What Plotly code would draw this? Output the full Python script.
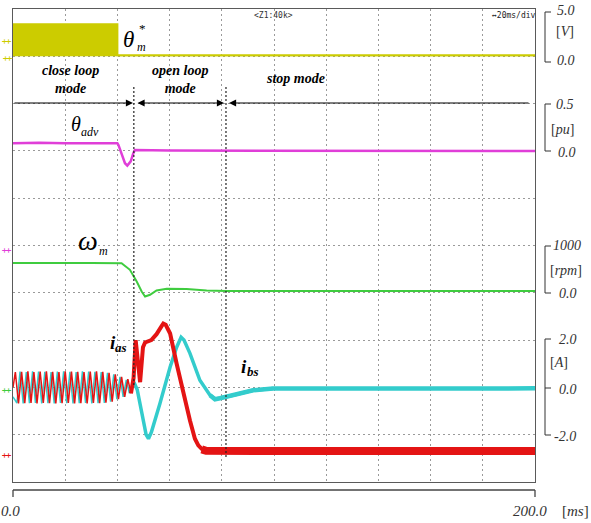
import plotly.graph_objects as go

# ---------------- data ----------------
# time axis: 0 .. 200 ms, 20 ms/div
yellow_t = [0, 0, 40.0, 40.0, 200]           # theta*_m  [V]
yellow_v = [0.1, 3.4, 3.4, 0.1, 0.1]

pink_t = [0, 10, 20, 30, 40.0, 40.4, 41.6, 42.9, 43.8, 45.1, 46.1, 46.7, 60, 100, 150, 200]   # theta_adv [pu]
pink_v = [0.08, 0.085, 0.08, 0.082, 0.08, 0.063, -0.025, -0.13, -0.155, -0.11, -0.025, 0.01, 0.003, 0.0, 0.003, 0.0]

green_t = [0, 15, 30, 41.6, 44.8, 47.4, 49.3, 50.6, 52.5, 55.0, 58.9, 66.5, 74.2, 81.9, 120, 200]   # omega_m [rpm]
green_v = [628, 635, 630, 625, 486, 239, 27, -78, -42, 49, 85, 78, 49, 38, 36, 38]

# i_as [A]
ias_osc_t = [0.0, 0.9, 2.1, 3.3, 4.5, 5.7, 6.9, 8.0, 9.2, 10.4, 11.6, 12.8, 14.0, 15.2, 16.4, 17.6,
             18.8, 20.0, 21.2, 22.4, 23.6, 24.8, 26.0, 27.2, 28.4, 29.6, 30.8, 32.0, 33.2, 34.4,
             35.6, 36.8, 38.0, 39.2, 40.4, 41.6, 42.8, 44.0, 45.2]
ias_osc_v = [0.0, 0.65, -0.68, 0.66, -0.67, 0.68, -0.66, 0.65, -0.68, 0.67, -0.66, 0.68, -0.67, 0.66,
             -0.68, 0.65, -0.67, 0.68, -0.66, 0.67, -0.68, 0.66, -0.67, 0.65, -0.68, 0.67, -0.66,
             0.68, -0.67, 0.66, -0.65, 0.62, -0.6, 0.55, -0.5, 0.45, -0.4, 0.35, -0.25]
ias_tr_t = [45.2, 46.2, 47.0, 47.6, 48.7, 49.8, 50.6, 53.0, 55.0, 57.0, 57.6, 58.5, 60.2, 62.7,
            65.3, 67.8, 69.7, 71.0, 72.3, 74.0]
ias_tr_v = [-0.25, 0.4, 2.0, 1.2, 0.22, 1.7, 1.9, 2.0, 2.25, 2.6, 2.7, 2.65, 2.28, 1.0,
            -0.27, -1.4, -2.17, -2.45, -2.6, -2.68]
ias_flat_t = [72.3, 74.0, 100, 130, 160, 200]
ias_flat_v = [-2.62, -2.68, -2.69, -2.7, -2.69, -2.69]

# i_bs [A]
ibs_osc_t = [0.0, 1.5, 2.7, 3.9, 5.1, 6.3, 7.5, 8.6, 9.8, 11.0, 12.2, 13.4, 14.6, 15.8, 17.0, 18.2,
             19.4, 20.6, 21.8, 23.0, 24.2, 25.4, 26.6, 27.8, 29.0, 30.2, 31.4, 32.6, 33.8, 35.0,
             36.2, 37.4, 38.6, 39.8, 41.0, 42.2, 43.4, 44.6, 45.8]
ibs_osc_v = [-0.4, -0.66, 0.67, -0.68, 0.65, -0.67, 0.68, -0.66, 0.67, -0.68, 0.66, -0.67, 0.65,
             -0.68, 0.67, -0.66, 0.68, -0.67, 0.66, -0.68, 0.65, -0.67, 0.68, -0.66, 0.67, -0.68,
             0.66, -0.67, 0.65, -0.66, 0.62, -0.6, 0.55, -0.5, 0.45, -0.4, 0.32, -0.25, 0.1]
ibs_tr_t = [45.8, 46.6, 47.6, 49.5, 51.0, 51.9, 53.0, 56.3, 60.2, 62.7, 64.4, 65.5, 67.8, 71.6,
            75.5, 77.4, 79.3, 84.3, 92.0, 99.6]
ibs_tr_v = [0.1, 0.15, -0.1, -1.2, -2.0, -2.17, -1.9, -0.68, 0.86, 1.7, 2.12, 2.0, 1.44, 0.3,
            -0.33, -0.5, -0.46, -0.33, -0.12, -0.05]
ibs_flat_t = [75.5, 77.4, 79.3, 84.3, 92.0, 99.6, 130, 160, 200]
ibs_flat_v = [-0.33, -0.5, -0.46, -0.33, -0.12, -0.05, -0.03, -0.05, -0.04]

mode_labels = ["close loop<br>mode", "open loop<br>mode", "stop mode"]
mode_bounds = [46.3, 81.6]   # ms, mode switching instants

# ---------------- layout geometry ----------------
FIG_W, FIG_H = 591, 523
L, R, T, B = 13, 56, 9, 41
PW, PH = FIG_W - L - R, FIG_H - T - B


def px(x):
    return (x - L) / PW


def py(y):
    return (T + PH - y) / PH


SERIF = "Liberation Serif"
YEL, PINK, GRN, RED, CYAN = "#cccc00", "#e03ed8", "#3fcc3f", "#e41414", "#33cccc"

fig = go.Figure()

fig.add_trace(go.Scatter(x=yellow_t, y=yellow_v, yaxis="y4", mode="lines", fill="tozeroy",
                         fillcolor=YEL, line=dict(color=YEL, width=2)))
fig.add_trace(go.Scatter(x=pink_t, y=pink_v, yaxis="y3", mode="lines",
                         line=dict(color=PINK, width=2.5)))
fig.add_trace(go.Scatter(x=green_t, y=green_v, yaxis="y2", mode="lines",
                         line=dict(color=GRN, width=2)))
fig.add_trace(go.Scatter(x=ibs_osc_t, y=ibs_osc_v, mode="lines", line=dict(color=CYAN, width=1.5)))
fig.add_trace(go.Scatter(x=ibs_tr_t, y=ibs_tr_v, mode="lines", line=dict(color=CYAN, width=3.5)))
fig.add_trace(go.Scatter(x=ibs_flat_t, y=ibs_flat_v, mode="lines", line=dict(color=CYAN, width=4.5)))
fig.add_trace(go.Scatter(x=ias_osc_t, y=ias_osc_v, mode="lines", line=dict(color=RED, width=1.5)))
fig.add_trace(go.Scatter(x=ias_tr_t, y=ias_tr_v, mode="lines", line=dict(color=RED, width=4)))
fig.add_trace(go.Scatter(x=ias_flat_t, y=ias_flat_v, mode="lines", line=dict(color=RED, width=8)))

GRID = dict(showgrid=True, gridcolor="#9a9a9a", gridwidth=1, griddash="1.5px,3.5px")
FRAME = dict(showline=True, linecolor="#5a5a5a", linewidth=1.3, mirror=True)

fig.update_layout(
    width=FIG_W, height=FIG_H,
    margin=dict(l=L, r=R, t=T, b=B, autoexpand=False),
    paper_bgcolor="white", plot_bgcolor="white",
    showlegend=False,
    xaxis=dict(range=[0, 200], tick0=0, dtick=20, showticklabels=False, ticks="",
               zeroline=False, **GRID, **FRAME),
    yaxis=dict(range=[-4, 16], tick0=0, dtick=2, showticklabels=False, ticks="",
               zeroline=False, **GRID, **FRAME),
    yaxis2=dict(range=[-4000, 6000], overlaying="y", visible=False),
    yaxis3=dict(range=[-3.5, 1.5], overlaying="y", visible=False),
    yaxis4=dict(range=[-45, 5], overlaying="y", visible=False),
)

shapes = []
ann = []


def pline(x0, y0, x1, y1, color="#444", width=1.3, dash=None):
    d = dict(type="line", xref="paper", yref="paper", x0=px(x0), y0=py(y0), x1=px(x1), y1=py(y1),
             line=dict(color=color, width=width))
    if dash:
        d["line"]["dash"] = dash
    shapes.append(d)


def text(x, y, s, size=14, color="black", family=SERIF, xanchor="center", yanchor="middle", angle=0):
    ann.append(dict(xref="paper", yref="paper", x=px(x), y=py(y), text=s, showarrow=False,
                    font=dict(family=family, size=size, color=color), xanchor=xanchor,
                    yanchor=yanchor, textangle=angle))


# mode boundary lines
for tb, ybot in zip(mode_bounds, [385, 457]):
    shapes.append(dict(type="line", xref="x", yref="paper", x0=tb, x1=tb, y0=py(87), y1=py(ybot),
                       line=dict(color="#222", width=1.2, dash="2px,2px")))

# arrows for modes
ARW = dict(showarrow=True, arrowcolor="black", arrowwidth=1.1, arrowhead=2, arrowsize=1.3,
           startarrowhead=2, startarrowsize=1.3, text="", xref="paper", yref="paper")
ann.append(dict(x=px(133), y=py(103), ax=-(133 - 13), ay=0, arrowside="end", **ARW))
ann.append(dict(x=px(224), y=py(103), ax=-(224 - 136), ay=0, arrowside="end+start", **ARW))
ann.append(dict(x=px(229), y=py(103), ax=(530 - 229), ay=0, arrowside="end", **ARW))

# mode labels
text(70, 79, "<b><i>" + mode_labels[0] + "</i></b>", size=14)
text(180, 79, "<b><i>" + mode_labels[1] + "</i></b>", size=14)
text(295, 78, "<b><i>" + mode_labels[2] + "</i></b>", size=14)

# signal labels
text(128, 40, "<i>θ</i>", size=23)
text(142, 28, "*", size=13)
text(141, 47, "<i>m</i>", size=12)
text(76, 124, "<i>θ</i>", size=20)
text(90, 132, "<i>adv</i>", size=12)
text(88, 240, "<i>ω</i>", size=28)
text(103, 251, "<i>m</i>", size=12)
text(113, 342, "<b><i>i</i></b>", size=19)
text(121, 347, "<b><i>as</i></b>", size=13)
text(244, 366, "<b><i>i</i></b>", size=19)
text(253, 371, "<b><i>bs</i></b>", size=13)

# scope header texts
text(273, 15, "&lt;Z1:40k&gt;", size=8, family="DejaVu Sans Mono", color="#333")
text(514, 15, "↔20ms/div", size=8, family="DejaVu Sans Mono", color="#222")

# right-side scale brackets
for top, bot, mid in [(12, 62, None), (104, 151, None), (246, 293, None), (339, 435, 388)]:
    pline(545, top, 545, bot, color="#333", width=1)
    pline(545, top, 551, top, color="#333", width=1)
    pline(545, bot, 551, bot, color="#333", width=1)
    if mid:
        pline(545, mid, 551, mid, color="#333", width=1)

RC = "#333"
text(566, 10, "<i>5.0</i>", color=RC)
text(565, 32, "[<i>V</i>]", color=RC)
text(566, 60, "<i>0.0</i>", color=RC)
text(565, 104, "<i>0.5</i>", color=RC)
text(562, 129, "[<i>pu</i>]", color=RC)
text(567, 152, "<i>0.0</i>", color=RC)
text(567, 245, "<i>1000</i>", color=RC)
text(566, 270, "[<i>rpm</i>]", color=RC)
text(568, 293, "<i>0.0</i>", color=RC)
text(568, 340, "<i>2.0</i>", color=RC)
text(559, 362, "[<i>A</i>]", color=RC)
text(568, 389, "<i>0.0</i>", color=RC)
text(565, 436, "<i>-2.0</i>", color=RC)

# time axis below the screen
pline(13, 490, 535, 490, color="#444", width=1.3)
pline(13, 490, 13, 497, color="#444", width=1.3)
pline(535, 490, 535, 497, color="#444", width=1.3)
text(22, 511, "<i>0.0</i>", size=15, color=RC, xanchor="right")
text(530, 511, "<i>200.0</i>", size=15, color=RC)
text(575, 511, "[<i>ms</i>]", size=15, color=RC)

# channel ground markers on the left
for y, c in [(41, YEL), (58, YEL), (250, PINK), (390, GRN), (455, RED)]:
    text(7, y, "‡", size=10, color=c, family="DejaVu Sans", angle=90)

fig.update_layout(shapes=shapes, annotations=ann)
fig.write_html("out.html", config={"displayModeBar": False},
               post_script="document.body.style.margin='0';document.body.style.overflow='hidden';")
